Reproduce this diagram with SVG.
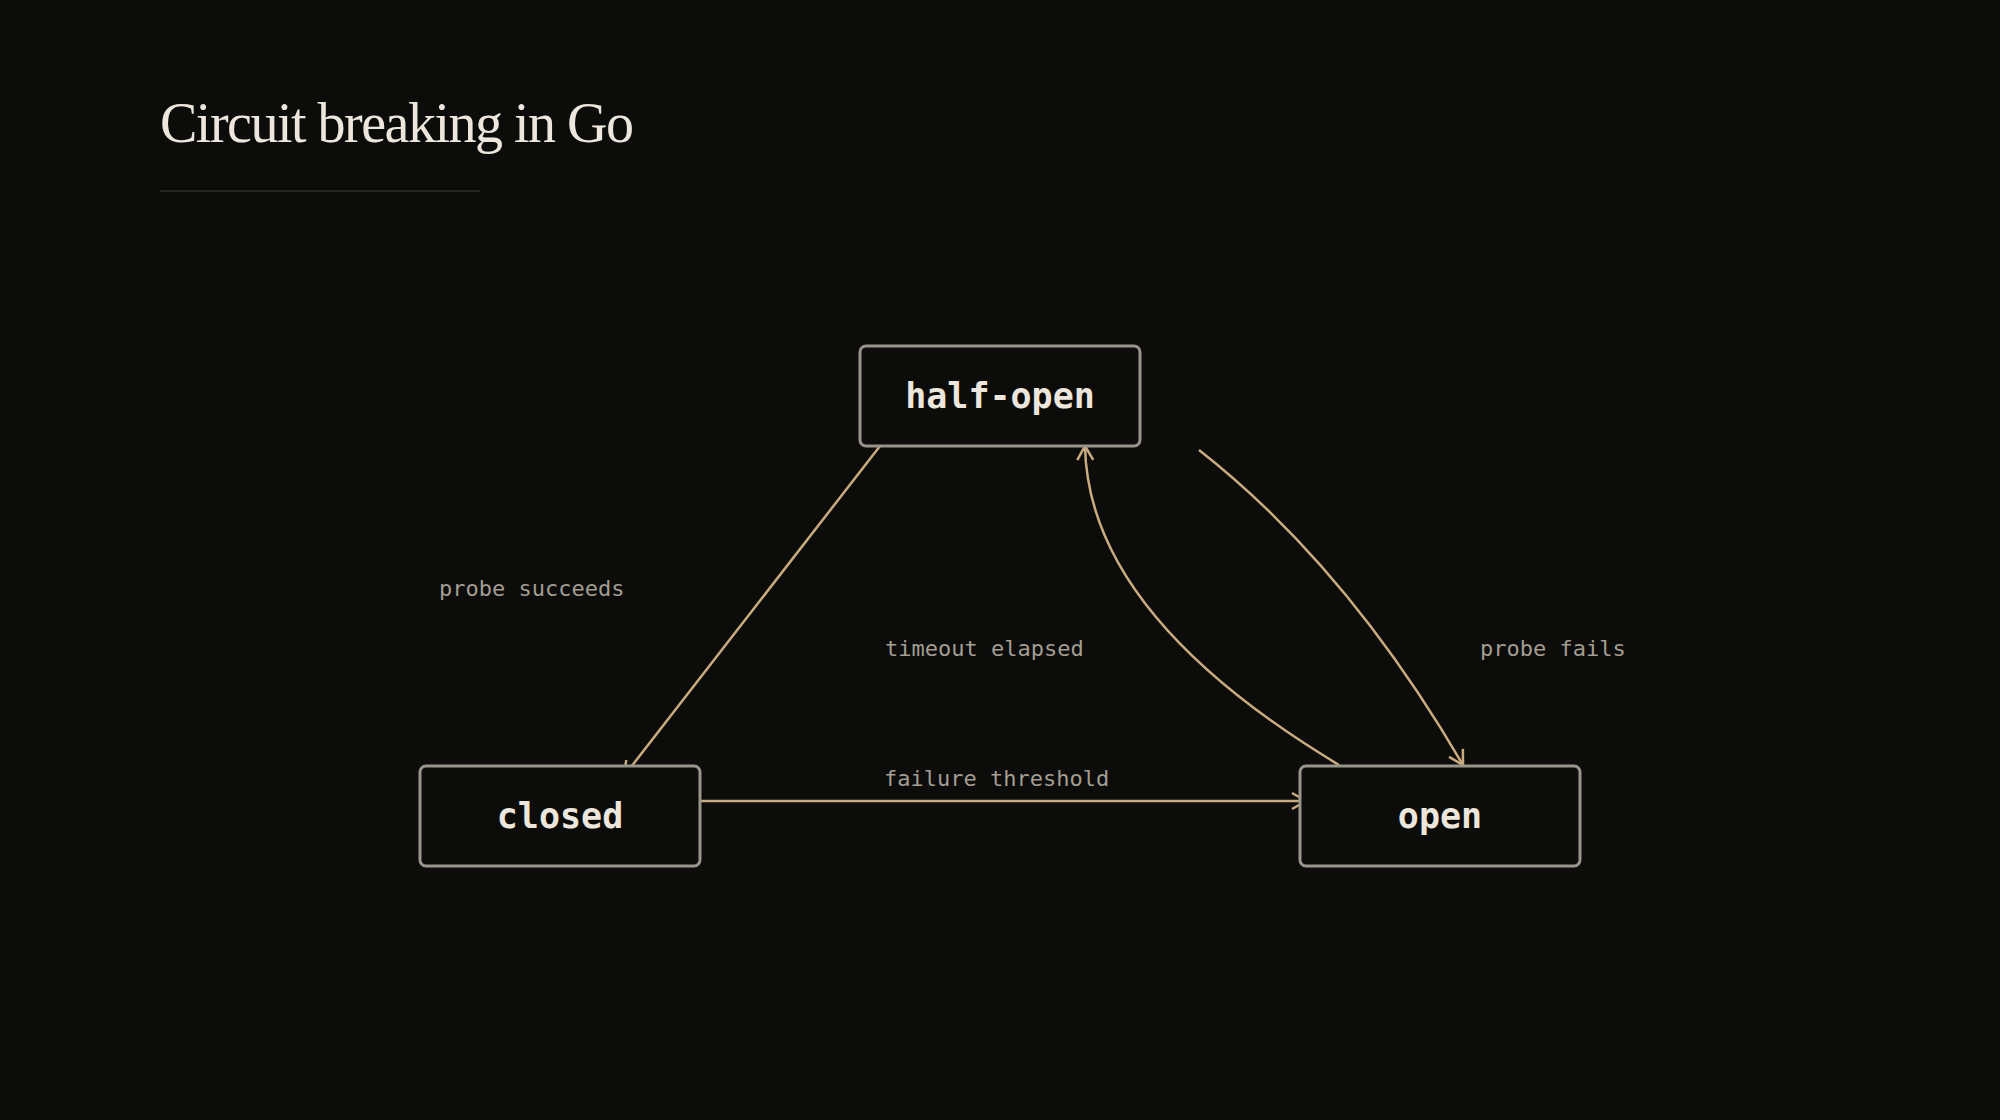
<svg xmlns="http://www.w3.org/2000/svg" width="2000" height="1120" viewBox="0 0 2000 1120">
<style>
.node rect{fill:#0c0c0b;stroke:#9a958b;stroke-width:3}
.node text{font-family:"DejaVu Sans Mono","Liberation Mono",monospace;font-size:35px;font-weight:bold;fill:#ece6dc;text-anchor:middle;dominant-baseline:central}
.edge{fill:none;stroke:#c9ab7f;stroke-width:2.5;marker-end:url(#arr)}
.lbl{font-family:"DejaVu Sans Mono","Liberation Mono",monospace;font-size:22px;fill:#a39d92}
</style>
<defs>
<marker id="arr" viewBox="0 0 20 20" refX="18" refY="10" markerWidth="20" markerHeight="20" markerUnits="userSpaceOnUse" orient="auto">
<path d="M4,2 L18,10 L4,18" fill="none" stroke="#c9ab7f" stroke-width="2.5"/>
</marker>
</defs>
<rect width="2000" height="1120" fill="#0c0c0b"/>
<text x="160" y="142" font-family="Liberation Serif,serif" font-size="56" fill="#ece6dc" letter-spacing="-1.5">Circuit breaking in Go</text>
<line x1="160" y1="191" x2="480" y2="191" stroke="#262522" stroke-width="2"/>
<g id="connectors">
<path class="edge" d="M880,446 L624,776"/>
<path class="edge" d="M1339,765 Q1088,614 1085,446"/>
<path class="edge" d="M1199,450 Q1347,566 1463,765"/>
<path class="edge" d="M700,801 L1306,801"/>
</g>
<g id="labels">
<text class="lbl" x="439" y="596">probe succeeds</text>
<text class="lbl" x="885" y="656">timeout elapsed</text>
<text class="lbl" x="1480" y="656">probe fails</text>
<text class="lbl" x="884" y="786">failure threshold</text>
</g>
<g id="half-open" class="node"><rect x="860" y="346" width="280" height="100" rx="6"/><text x="1000" y="396">half-open</text></g>
<g id="closed" class="node"><rect x="420" y="766" width="280" height="100" rx="6"/><text x="560" y="816">closed</text></g>
<g id="open" class="node"><rect x="1300" y="766" width="280" height="100" rx="6"/><text x="1440" y="816">open</text></g>
</svg>
